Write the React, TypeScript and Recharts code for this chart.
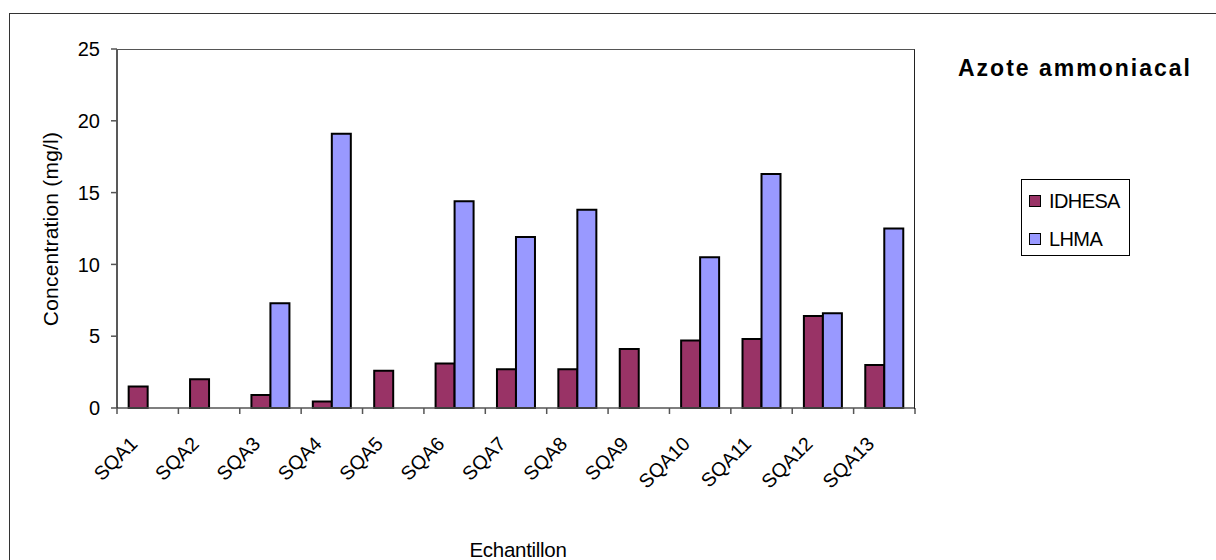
import { BarChart, Bar, XAxis, YAxis, Label } from 'recharts';

const samples = ['SQA1', 'SQA2', 'SQA3', 'SQA4', 'SQA5', 'SQA6', 'SQA7', 'SQA8', 'SQA9', 'SQA10', 'SQA11', 'SQA12', 'SQA13'];
const idhesa = [1.5, 2.0, 0.9, 0.45, 2.6, 3.1, 2.7, 2.7, 4.1, 4.7, 4.8, 6.4, 3.0];
const lhma = [null, null, 7.3, 19.1, null, 14.4, 11.9, 13.8, null, 10.5, 16.3, 6.6, 12.5];
const yTicks = [0, 5, 10, 15, 20, 25];

const data = samples.map((name, i) => ({ name, IDHESA: idhesa[i], LHMA: lhma[i] }));

const FONT = '"Liberation Sans", Arial, sans-serif';
const COLORS = { IDHESA: '#993366', LHMA: '#9999FF' };

// plot box: x 117..915, y 49..408
const HALF_BAND = 798 / samples.length / 2;

function XTick(props: any) {
  const { x, y, payload, index } = props;
  const lx = x - 9;
  const ly = y + 37;
  return (
    <g>
      <line x1={x - HALF_BAND} y1={y} x2={x - HALF_BAND} y2={y + 6} stroke="#555" strokeWidth={1.5} />
      {index === samples.length - 1 && (
        <line x1={x + HALF_BAND} y1={y} x2={x + HALF_BAND} y2={y + 6} stroke="#555" strokeWidth={1.5} />
      )}
      <text
        x={lx}
        y={ly}
        transform={`rotate(-45 ${lx} ${ly})`}
        textAnchor="end"
        fontSize={19.5}
        fontFamily={FONT}
        fill="#000"
      >
        {payload.value}
      </text>
    </g>
  );
}

function LegendBox() {
  return (
    <div
      style={{
        position: 'absolute',
        left: 1021,
        top: 179,
        width: 107,
        height: 75,
        border: '1px solid #000',
        background: '#fff',
        fontFamily: FONT,
        fontSize: 20,
      }}
    >
      {(['IDHESA', 'LHMA'] as const).map((k, i) => (
        <div key={k} style={{ position: 'absolute', left: 7, top: 11 + i * 38, display: 'flex', alignItems: 'center' }}>
          <span
            style={{
              display: 'inline-block',
              width: 10,
              height: 10,
              background: COLORS[k],
              border: '1.5px solid #000',
              marginRight: 8,
            }}
          />
          <span style={{ lineHeight: '20px', letterSpacing: -0.6 }}>{k}</span>
        </div>
      ))}
    </div>
  );
}

export default function App() {
  return (
    <div
      style={{
        position: 'absolute',
        left: 0,
        top: 0,
        width: 1216,
        height: 560,
        overflow: 'hidden',
        background: '#fff',
        fontFamily: FONT,
      }}
    >
      {/* cadre extérieur */}
      <div
        style={{
          position: 'absolute',
          left: 9,
          top: 13,
          width: 1300,
          height: 700,
          borderLeft: '1.5px solid #333',
          borderTop: '1.5px solid #333',
        }}
      />
      <div
        style={{
          position: 'absolute',
          left: 958,
          top: 55,
          fontSize: 23,
          fontWeight: 'bold',
          letterSpacing: 2,
          whiteSpace: 'nowrap',
        }}
      >
        Azote ammoniacal
      </div>
      <div style={{ position: 'absolute', left: 0, top: 0 }}>
        <BarChart
          width={1216}
          height={560}
          data={data}
          margin={{ top: 49, right: 301, left: 57, bottom: 52 }}
          barCategoryGap="19%"
          barGap={0}
        >
          <XAxis
            dataKey="name"
            height={100}
            interval={0}
            tickLine={false}
            tickSize={0}
            tickMargin={0}
            axisLine={{ stroke: '#555', strokeWidth: 1.5 }}
            tick={<XTick />}
          >
            <Label
              content={() => (
                <text x={518} y={557} textAnchor="middle" fontSize={20.5} fontFamily={FONT} fill="#000" letterSpacing={-0.3}>
                  Echantillon
                </text>
              )}
            />
          </XAxis>
          <YAxis
            width={60}
            domain={[0, 25]}
            ticks={yTicks}
            tickSize={6}
            tickMargin={11}
            axisLine={{ stroke: '#222', strokeWidth: 1.5 }}
            tickLine={{ stroke: '#555', strokeWidth: 1.5 }}
            tick={{ fontSize: 20, fill: '#000', fontFamily: FONT }}
          >
            <Label
              content={() => (
                <text
                  x={58}
                  y={229}
                  transform="rotate(-90 58 229)"
                  textAnchor="middle"
                  fontSize={21}
                  fontFamily={FONT}
                  fill="#000"
                  letterSpacing={0.2}
                >
                  Concentration (mg/l)
                </text>
              )}
            />
          </YAxis>
          <Bar dataKey="IDHESA" fill={COLORS.IDHESA} stroke="#000" strokeWidth={2} isAnimationActive={false} />
          <Bar dataKey="LHMA" fill={COLORS.LHMA} stroke="#000" strokeWidth={2} isAnimationActive={false} />
        </BarChart>
      </div>
      {/* bord haut / droit de la zone de tracé */}
      <div
        style={{
          position: 'absolute',
          left: 117,
          top: 49,
          width: 797,
          height: 359,
          borderTop: '1.5px solid #555',
          borderRight: '1.5px solid #222',
          pointerEvents: 'none',
        }}
      />
      <LegendBox />
    </div>
  );
}
